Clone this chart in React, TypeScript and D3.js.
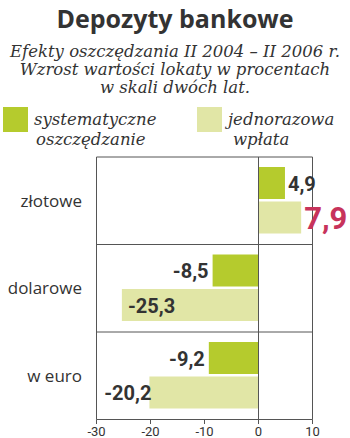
import React from "react";
import * as d3 from "d3";

const categories = ["złotowe", "dolarowe", "w euro"];
const systematic = [4.9, -8.5, -9.2];
const oneTime = [7.9, -25.3, -20.2];
const xTicks = [-30, -20, -10, 0, 10];
const legendLabels = [
  ["systematyczne", "oszczędzanie"],
  ["jednorazowa", "wpłata"],
];
const title = "Depozyty bankowe";
const subtitle = [
  "Efekty oszczędzania II 2004 – II 2006 r.",
  "Wzrost wartości lokaty w procentach",
  "w skali dwóch lat.",
];

const DARK = "#b5cb2d";
const LIGHT = "#e1e6a6";
const HIGHLIGHT = "#c7335b";
const TEXT = "#333333";
const LINE = "#555555";

const fmt = (v: number) => String(v).replace(".", ",");

export default function App() {
  const W = 350;
  const H = 438;
  const x = d3.scaleLinear().domain([-30, 10]).range([96.5, 312.5]);
  const y = d3.scaleBand<string>().domain(categories).range([157, 419.5]);
  const bw = y.bandwidth();
  const barH = 32;
  const top1 = 10;
  const top2 = 44.5;
  const sans = "Roboto, 'Open Sans', sans-serif";
  const serif = "'DejaVu Serif', 'Liberation Serif', serif";

  const series = [
    { values: systematic, color: DARK, off: top1 },
    { values: oneTime, color: LIGHT, off: top2 },
  ];

  return (
    <svg width={W} height={H} style={{ position: "absolute", left: 0, top: 0, background: "#fff" }}>
      <text x={175} y={28} textAnchor="middle" fontFamily="'Open Sans', sans-serif" fontWeight={700} fontSize={25} fill={TEXT}>
        {title}
      </text>
      {subtitle.map((s, i) => (
        <text key={i} x={175} y={57 + i * 18} textAnchor="middle" fontFamily={serif} fontStyle="italic" fontSize={16.5} fill={TEXT}>
          {s}
        </text>
      ))}
      {/* legend */}
      {[DARK, LIGHT].map((c, i) => {
        const lx = i === 0 ? 3 : 197;
        return (
          <g key={i}>
            <rect x={lx} y={107} width={25} height={25} fill={c} />
            <text x={lx + 31} y={125} fontFamily={serif} fontStyle="italic" fontSize={16.5} fill={TEXT}>
              {legendLabels[i][0]}
            </text>
            <text x={lx + (i === 0 ? 33 : 36)} y={145} fontFamily={serif} fontStyle="italic" fontSize={16.5} fill={TEXT}>
              {legendLabels[i][1]}
            </text>
          </g>
        );
      })}
      {/* bars */}
      {series.map((s, si) =>
        categories.map((c, ci) => {
          const v = s.values[ci];
          const x0 = Math.min(x(0), x(v));
          const w = Math.abs(x(v) - x(0));
          return <rect key={si + "-" + ci} x={x0} y={(y(c) as number) + s.off} width={w} height={barH} fill={s.color} />;
        })
      )}
      {/* grid lines */}
      <g stroke={LINE} strokeWidth={1}>
        <line x1={x(-30)} x2={x(10)} y1={157} y2={157} />
        {categories.map((c, i) => (
          <line key={i} x1={x(-30)} x2={x(10)} y1={(y(c) as number) + bw} y2={(y(c) as number) + bw} />
        ))}
        {[-30, 0, 10].map((t) => (
          <line key={t} x1={x(t)} x2={x(t)} y1={157} y2={419.5} />
        ))}
        {xTicks.map((t) => (
          <line key={"t" + t} x1={x(t)} x2={x(t)} y1={419.5} y2={424} />
        ))}
      </g>
      {xTicks.map((t) => (
        <text key={t} x={x(t)} y={436} textAnchor="middle" fontFamily={sans} fontSize={13} fill={TEXT}>
          {t}
        </text>
      ))}
      {/* category labels */}
      {categories.map((c) => (
        <text key={c} x={82} y={(y(c) as number) + bw / 2 + 6} textAnchor="end" fontFamily="'Open Sans', sans-serif" fontSize={17} fill={TEXT}>
          {c}
        </text>
      ))}
      {/* value labels */}
      {series.map((s, si) =>
        categories.map((c, ci) => {
          const v = s.values[ci];
          const big = si === 1 && v > 0;
          const yy = (y(c) as number) + s.off + barH / 2 + (big ? 11 : 7.5);
          let tx: number;
          let anchor: "start" | "end";
          if (v >= 0) {
            tx = x(v) + 3;
            anchor = "start";
          } else if (si === 0) {
            tx = x(v) - 4;
            anchor = "end";
          } else if (v < -22) {
            tx = x(v) + 6;
            anchor = "start";
          } else {
            tx = x(v) + 2;
            anchor = "end";
          }
          return (
            <text
              key={"l" + si + ci}
              x={tx}
              y={yy}
              textAnchor={anchor}
              fontFamily={sans}
              fontWeight={700}
              fontSize={big ? 31 : 20}
              fill={big ? HIGHLIGHT : TEXT}
            >
              {fmt(v)}
            </text>
          );
        })
      )}
    </svg>
  );
}
